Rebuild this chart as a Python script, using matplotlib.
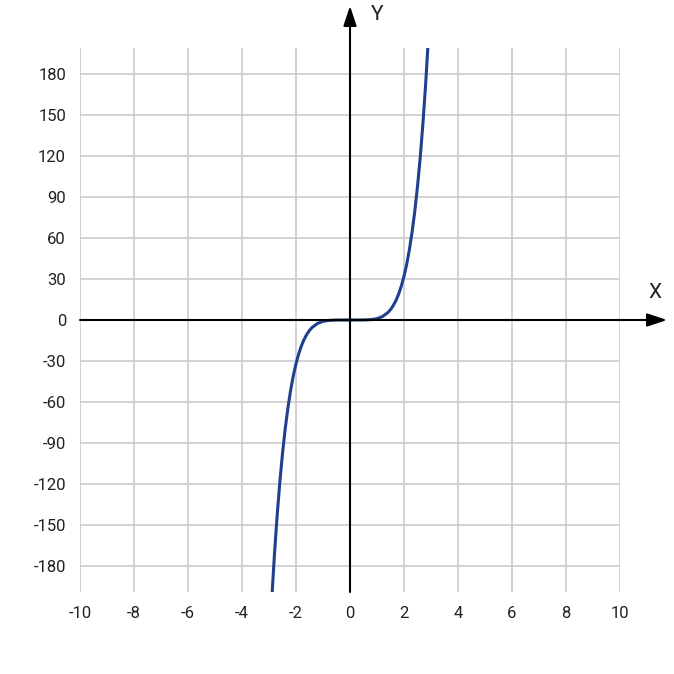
import matplotlib
matplotlib.use("Agg")
import matplotlib.pyplot as plt

x_pts = [-2.9, -2.8, -2.7, -2.6, -2.5, -2.4, -2.3, -2.2, -2.1, -2.0, -1.9, -1.8, -1.7, -1.6, -1.5, -1.4, -1.2, -1.0, -0.8, -0.5, 0.0,
         0.5, 0.8, 1.0, 1.2, 1.4, 1.5, 1.6, 1.7, 1.8, 1.9, 2.0, 2.1, 2.2, 2.3, 2.4, 2.5, 2.6, 2.7, 2.8, 2.9]
y_pts = [-205.1, -172.1, -143.5, -118.8, -97.7, -79.6, -64.4, -51.5, -40.8, -32.0, -24.8, -18.9, -14.2, -10.5, -7.6, -5.4, -2.5, -1.0, -0.33, -0.03, 0.0,
         0.03, 0.33, 1.0, 2.5, 5.4, 7.6, 10.5, 14.2, 18.9, 24.8, 32.0, 40.8, 51.5, 64.4, 79.6, 97.7, 118.8, 143.5, 172.1, 205.1]
x_ticks = [-10, -8, -6, -4, -2, 0, 2, 4, 6, 8, 10]
y_ticks = [-180, -150, -120, -90, -60, -30, 0, 30, 60, 90, 120, 150, 180]

plt.rcParams['font.family'] = ['Roboto', 'DejaVu Sans']
plt.rcParams['axes.unicode_minus'] = False
W = 674
fig = plt.figure(figsize=(6.74, 6.74), dpi=100)
L, R, T, B = 80, 620, 48, 592
ax = fig.add_axes([L / W, (W - B) / W, (R - L) / W, (B - T) / W])
ax.set_xlim(-10, 10)
ax.set_ylim(-199, 199)
ax.set_xticks(x_ticks)
ax.set_yticks(y_ticks)
ax.grid(True, which='major', color='#cccccc', lw=1.2)
for s in ax.spines.values():
    s.set_visible(False)
ax.tick_params(length=0, labelsize=12, labelcolor='#222222', pad=10)
ax.plot(x_pts, y_pts, color='#1f3f8f', lw=2.2, solid_capstyle='round')

def fp(px, py):
    return (px / W, (W - py) / W)
for a, b in [((80, 320), (667, 320)), ((350, 592), (350, 6))]:
    fig.add_artist(matplotlib.patches.FancyArrowPatch(fp(*a), fp(*b), transform=fig.transFigure,
                   arrowstyle='-|>,head_length=12,head_width=4', color='black', lw=1.5,
                   mutation_scale=1, shrinkA=0, shrinkB=0))
fig.text(*fp(655, 293), 'X', fontsize=15, ha='center', va='center', color='#222222')
fig.text(*fp(377, 14), 'Y', fontsize=15, ha='center', va='center', color='#222222')
fig.savefig('out.png', dpi=100, facecolor='white')
